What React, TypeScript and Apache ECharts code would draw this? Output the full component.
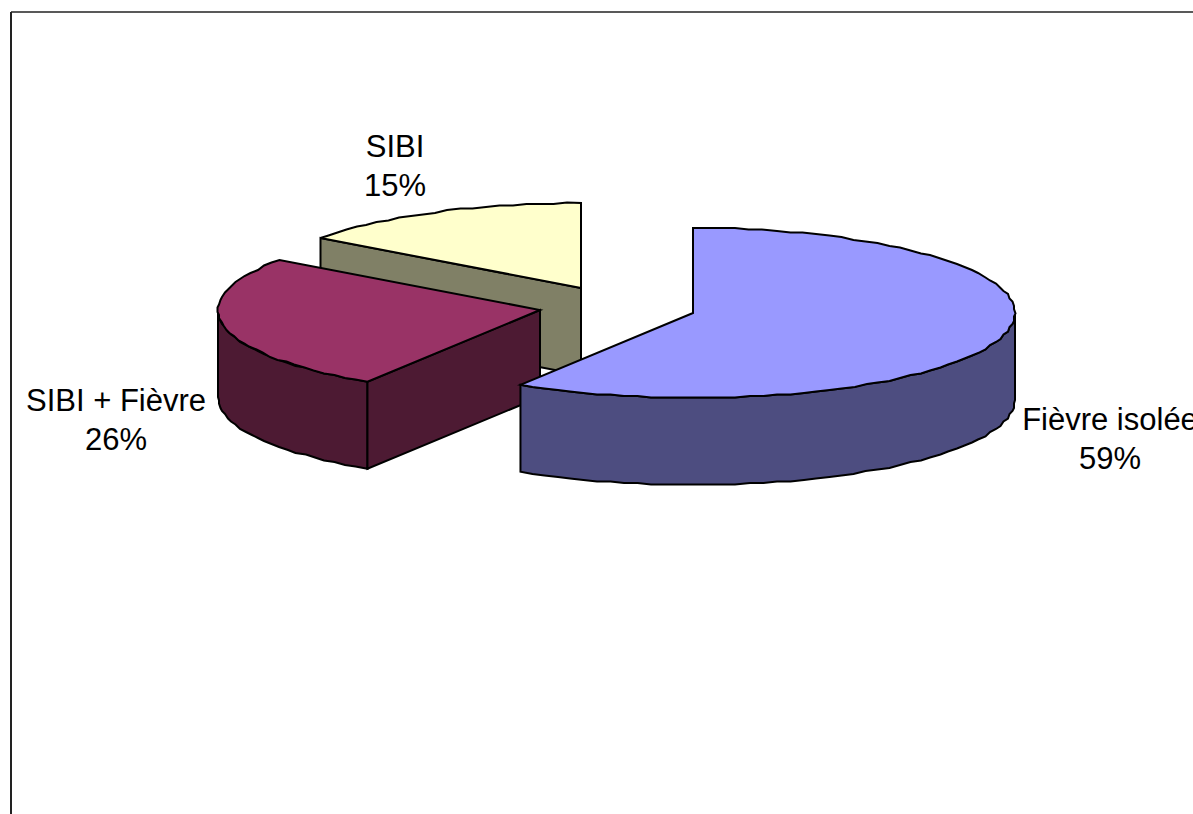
import React, { useEffect, useRef } from "react";
import * as echarts from "echarts";

const categories = ["Fièvre isolée", "SIBI + Fièvre", "SIBI"];
const shares = [59, 26, 15];

const topColors = ["#9999FF", "#993366", "#FFFFCC"];
const sideColors = ["#4D4D80", "#4D1A33", "#808066"];

// Exploded centre of each wedge, and where its label sits.
const centres = [[693, 313], [540, 310], [581, 288]];
const labelAnchors = [[1110, 439], [116, 420], [395, 166]];

const RX = 322;
const RY = 85;
const DEPTH = 87;
const GRID = 1.5;
const FONT = "Liberation Sans, Arial, sans-serif";

const snap = (v: number) => Math.round(v / GRID) * GRID;

// Point on the rim, with angle in degrees clockwise from twelve o'clock.
// The rim is quantised slightly, giving the stepped outline of an old metafile.
function rim(c: number[], deg: number, drop = 0, exact = false) {
  const a = (deg * Math.PI) / 180;
  const x = c[0] + RX * Math.sin(a);
  const y = c[1] - RY * Math.cos(a) + drop;
  return exact ? [x, y] : [snap(x), snap(y)];
}

function arc(c: number[], from: number, to: number, drop = 0) {
  const pts: number[][] = [];
  const n = Math.max(2, Math.ceil(Math.abs(to - from) / 2.5));
  for (let i = 0; i <= n; i++) {
    const edge = i === 0 || i === n;
    pts.push(rim(c, from + ((to - from) * i) / n, drop, edge));
  }
  return pts;
}

function poly(points: number[][], fill: string) {
  return {
    type: "polygon",
    shape: { points },
    style: { fill, stroke: "#000", lineWidth: 2, lineJoin: "miter" },
  };
}

function wedgeRenderer(index: number) {
  const total = shares.reduce((s, v) => s + v, 0);
  const before = shares.slice(0, index).reduce((s, v) => s + v, 0);
  return (_params: unknown, api: any) => {
    const value = api.value(0) as number;
    const start = (before / total) * 360;
    const end = ((before + value) / total) * 360;
    const c = centres[index];
    const children: any[] = [];

    // Outer wall: only the stretch of rim facing the viewer (90 to 270 degrees).
    const wallFrom = Math.max(start, 90);
    const wallTo = Math.min(end, 270);
    if (wallFrom < wallTo) {
      const top = arc(c, wallFrom, wallTo);
      const bottom = arc(c, wallFrom, wallTo, DEPTH).reverse();
      children.push(poly([...top, ...bottom], sideColors[index]));
    }

    // Cut face along the wedge's leading edge, seen when that edge lies left of centre.
    if (start > 180 && start < 360) {
      const p = rim(c, start, 0, true);
      children.push(
        poly([p, c, [c[0], c[1] + DEPTH], [p[0], p[1] + DEPTH]], sideColors[index])
      );
    }

    // Top face.
    children.push(poly([c, ...arc(c, start, end)], topColors[index]));

    // Two-line label: name over rounded share.
    children.push({
      type: "text",
      x: labelAnchors[index][0],
      y: labelAnchors[index][1],
      style: {
        text: `${categories[index]}\n${Math.round((value / total) * 100)}%`,
        fill: "#000",
        font: `31px ${FONT}`,
        lineHeight: 39,
        align: "center",
        verticalAlign: "middle",
      },
    });

    return { type: "group", children };
  };
}

export default function App() {
  const ref = useRef<HTMLDivElement>(null);

  useEffect(() => {
    const chart = echarts.init(ref.current!, undefined, { renderer: "svg" });
    chart.setOption({
      animation: false,
      backgroundColor: "#fff",
      graphic: [
        {
          type: "line",
          shape: { x1: 11, y1: 12, x2: 1193, y2: 12 },
          style: { stroke: "#222", lineWidth: 1.6 },
        },
        {
          type: "line",
          shape: { x1: 11, y1: 12, x2: 11, y2: 814 },
          style: { stroke: "#222", lineWidth: 2 },
        },
      ],
      // The far wedge is painted first so nearer ones overlap it.
      series: shares.map((value, i) => ({
        type: "custom",
        name: categories[i],
        coordinateSystem: "none",
        z: 10 - i,
        silent: true,
        data: [[value]],
        renderItem: wedgeRenderer(i),
      })),
    });
    return () => chart.dispose();
  }, []);

  return (
    <div
      ref={ref}
      style={{
        position: "absolute",
        left: 0,
        top: 0,
        width: 1193,
        height: 814,
        overflow: "hidden",
      }}
    />
  );
}
